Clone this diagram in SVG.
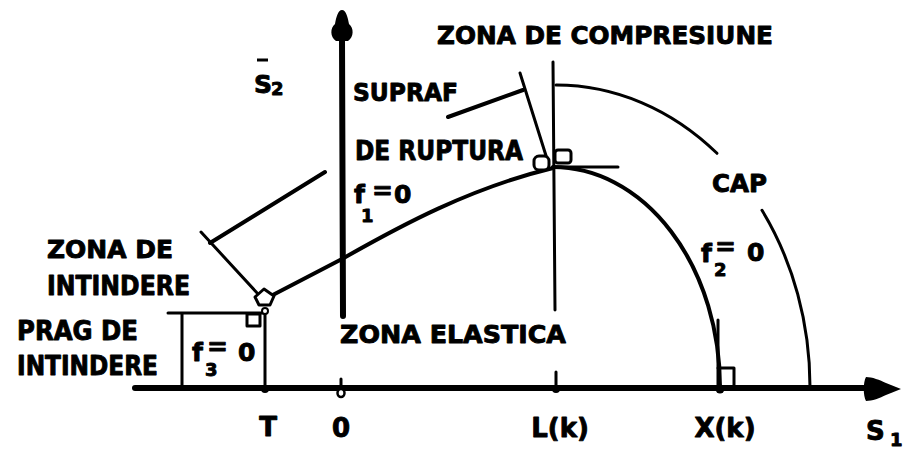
<svg xmlns="http://www.w3.org/2000/svg" width="903" height="449" viewBox="0 0 903 449">
<style>
.ln{stroke:#000;fill:none;stroke-linecap:round;stroke-linejoin:round}
.ax{stroke-width:6}
.cv{stroke-width:4}
.th{stroke-width:3}
.mk{stroke:#000;stroke-width:3;fill:#fff;stroke-linejoin:round}
.t{font-family:"DejaVu Sans","Liberation Sans",sans-serif;font-weight:bold;fill:#000;font-size:25px;stroke:#000;stroke-width:0.9;stroke-linejoin:round}
.b{font-size:26px}
.s{font-size:18px}
</style>
<rect width="903" height="449" fill="#fff"/>
<g id="axes">
  <line class="ln ax" x1="135" y1="388" x2="870" y2="388"/>
  <path d="M866,377 C872,377 880,380 886,383 L901,389 L886,395 C880,398 872,401 866,401 C863,396 863,382 866,377 Z" fill="#000"/>
  <line class="ln ax" x1="342" y1="38" x2="343" y2="316"/>
  <path d="M342,10 C346,10 348,18 349,24 C354,28 354,37 348,41 L336,41 C330,37 330,28 335,24 C336,18 338,10 342,10 Z" fill="#000"/>
  <line class="ln th" x1="341" y1="379" x2="341" y2="388"/>
  <ellipse cx="341" cy="393" rx="3.5" ry="4" fill="#fff" stroke="#000" stroke-width="2.5"/>
  <line class="ln th" x1="556" y1="372" x2="556" y2="388"/>
  <circle cx="556" cy="389" r="4" fill="#000"/>
  <circle cx="265" cy="389" r="4" fill="#000"/>
  <circle cx="720" cy="389" r="4.5" fill="#000"/>
</g>
<g id="connectors">
  <path class="ln cv" d="M267,298 L342,259 C400,226 470,188 553,168"/>
  <path class="ln cv" d="M553,167 A167,220 0 0,1 720,387"/>
  <path class="ln th" d="M556,85 A254,302 0 0,1 717,153.3"/>
  <path class="ln th" d="M762,210.3 A254,302 0 0,1 810,387"/>
  <line class="ln th" x1="553" y1="62" x2="555" y2="310"/>
  <line class="ln th" x1="553" y1="167" x2="618" y2="167"/>
  <line class="ln th" x1="520" y1="73" x2="548" y2="162"/>
  <line class="ln cv" x1="448" y1="117" x2="523" y2="90"/>
  <line class="ln th" x1="201" y1="232" x2="258" y2="294"/>
  <line class="ln cv" x1="210" y1="243" x2="325" y2="172"/>
  <line class="ln th" x1="168" y1="313" x2="265" y2="313"/>
  <line class="ln th" x1="265" y1="311" x2="265" y2="388"/>
  <line class="ln th" x1="182" y1="314" x2="182" y2="388"/>
  <line class="ln th" x1="718" y1="320" x2="718" y2="388"/>
  <path class="ln th" d="M718,368 L734,368 L734,385"/>
</g>
<g id="markers">
  <polygon class="mk" points="255,297 264,289 274,296 270,305 259,305"/>
  <rect class="mk" x="247" y="314" width="13" height="12" stroke-width="2.5"/>
  <circle cx="265" cy="311" r="3" fill="#fff" stroke="#000" stroke-width="2"/>
  <rect class="mk" x="534" y="156" width="15" height="14" rx="5"/>
  <rect class="mk" x="555" y="150" width="16" height="13" rx="3"/>
</g>
<g id="labels">
  <text class="t" x="437" y="44" textLength="336" lengthAdjust="spacingAndGlyphs">ZONA DE COMPRESIUNE</text>
  <text class="t" x="353" y="101" textLength="105" lengthAdjust="spacingAndGlyphs">SUPRAF</text>
  <text class="t b" x="355" y="160" textLength="168" lengthAdjust="spacingAndGlyphs">DE RUPTURA</text>
  <text class="t" x="712" y="192" textLength="55" lengthAdjust="spacingAndGlyphs">CAP</text>
  <text class="t" x="47" y="258" textLength="126" lengthAdjust="spacingAndGlyphs">ZONA DE</text>
  <text class="t b" x="47" y="295" textLength="143" lengthAdjust="spacingAndGlyphs">INTINDERE</text>
  <text class="t b" x="17" y="340" textLength="121" lengthAdjust="spacingAndGlyphs">PRAG DE</text>
  <text class="t b" x="17" y="375" textLength="141" lengthAdjust="spacingAndGlyphs">INTINDERE</text>
  <text class="t" x="340" y="343" textLength="226" lengthAdjust="spacingAndGlyphs">ZONA ELASTICA</text>
  <text class="t b" x="268" y="436" text-anchor="middle">T</text>
  <text class="t b" x="341" y="437" text-anchor="middle">0</text>
  <text class="t b" x="560" y="437" text-anchor="middle">L(k)</text>
  <text class="t b" x="725" y="437" text-anchor="middle">X(k)</text>
  <text class="t b" x="866" y="440">S<tspan class="s" x="890" y="446">1</tspan></text>
  <line x1="257" y1="60" x2="268" y2="60" stroke="#000" stroke-width="3"/>
  <text class="t" x="254" y="93">S<tspan class="s" x="271" y="95">2</tspan></text>
  <text class="t" x="354" y="203">f<tspan x="372" y="199">=</tspan><tspan x="394" y="203">0</tspan><tspan class="s" x="361" y="222">1</tspan></text>
  <text class="t" x="192" y="361">f<tspan x="207" y="355">=</tspan><tspan x="238" y="361">0</tspan><tspan class="s" x="205" y="376">3</tspan></text>
  <text class="t" x="701" y="262">f<tspan x="715" y="255">=</tspan><tspan x="747" y="261">0</tspan><tspan class="s" x="714" y="276">2</tspan></text>
</g>
</svg>
